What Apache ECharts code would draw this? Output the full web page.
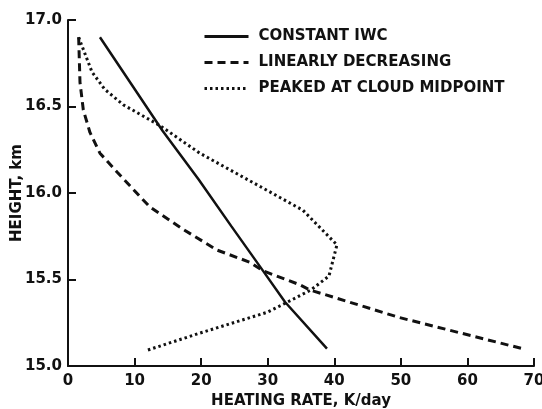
<!DOCTYPE html>
<html>
<head>
<meta charset="utf-8">
<script src="https://cdn.jsdelivr.net/npm/echarts@6/dist/echarts.min.js"></script>
<style>
  html, body { margin: 0; padding: 0; background: #fff; }
  #chart { width: 542px; height: 409px; }
</style>
</head>
<body>
<div id="chart"></div>
<script>
// heating rate (K/day) vs height (km)
const seriesNames = ["CONSTANT IWC", "LINEARLY DECREASING", "PEAKED AT CLOUD MIDPOINT"];

const constRate = [4.8, 9.5, 14.2, 19.6, 24.5, 29.3, 32.6, 38.9];
const constHeight = [16.9, 16.63, 16.36, 16.08, 15.81, 15.55, 15.37, 15.1];

const linRate = [1.6, 1.8, 2.3, 3.3, 4.8, 7.4, 10.8, 12.3, 17.3, 22.4, 27.3, 29.3, 34.8, 36.3, 49.8, 68.3];
const linHeight = [16.9, 16.64, 16.48, 16.35, 16.23, 16.12, 15.98, 15.92, 15.79, 15.67, 15.6, 15.55, 15.47, 15.44, 15.28, 15.1];

const peakRate = [1.6, 3.6, 5.5, 8.3, 13.8, 19.8, 27.8, 35.3, 40.4, 39.2, 36.5, 33, 29.9, 19.8, 11.8];
const peakHeight = [16.9, 16.7, 16.6, 16.51, 16.39, 16.23, 16.06, 15.9, 15.7, 15.52, 15.44, 15.37, 15.31, 15.19, 15.09];

const xTicks = [0, 10, 20, 30, 40, 50, 60, 70];
const yTicks = [15.0, 15.5, 16.0, 16.5, 17.0];

function pairs(xs, ys) {
  return xs.map((x, i) => [x, ys[i]]);
}

const ink = "#111";
const font = "DejaVu Sans";

let myChart = echarts.init(document.getElementById("chart"));
myChart.setOption({
  animation: false,
  backgroundColor: "#fff",
  grid: {
    left: 68,
    right: 8,
    top: 20,
    bottom: 43,
    outerBoundsMode: "none",
    containLabel: false
  },
  legend: {
    orient: "vertical",
    left: 198,
    top: 24,
    itemWidth: 44,
    itemHeight: 14,
    itemGap: 11,
    data: seriesNames,
    itemStyle: { opacity: 0 },
    lineStyle: { width: 3 },
    textStyle: {
      color: ink,
      fontFamily: font,
      fontWeight: "bold",
      fontSize: 15,
      padding: [0, 0, 0, 5]
    }
  },
  xAxis: {
    type: "value",
    min: xTicks[0],
    max: xTicks[xTicks.length - 1],
    interval: 10,
    name: "HEATING RATE, K/day",
    nameLocation: "middle",
    nameGap: 26,
    nameTextStyle: { color: ink, fontFamily: font, fontWeight: "bold", fontSize: 15 },
    axisLine: { lineStyle: { color: ink, width: 2 } },
    axisTick: { inside: true, length: 8, lineStyle: { color: ink, width: 2 } },
    axisLabel: { color: ink, fontFamily: font, fontWeight: "bold", fontSize: 15, margin: 8 },
    splitLine: { show: false }
  },
  yAxis: {
    type: "value",
    min: yTicks[0],
    max: yTicks[yTicks.length - 1],
    interval: 0.5,
    name: "HEIGHT, km",
    nameLocation: "middle",
    nameGap: 43,
    nameMoveOverlap: false,
    nameTextStyle: { color: ink, fontFamily: font, fontWeight: "bold", fontSize: 15 },
    axisLine: { show: true, lineStyle: { color: ink, width: 2 } },
    axisTick: { show: true, inside: true, length: 8, lineStyle: { color: ink, width: 2 } },
    axisLabel: {
      color: ink,
      fontFamily: font,
      fontWeight: "bold",
      fontSize: 15,
      margin: 6,
      formatter: v => v.toFixed(1)
    },
    splitLine: { show: false }
  },
  series: [
    {
      name: seriesNames[0],
      type: "line",
      symbol: "none",
      data: pairs(constRate, constHeight),
      lineStyle: { color: ink, width: 2.5 },
      itemStyle: { color: ink }
    },
    {
      name: seriesNames[1],
      type: "line",
      symbol: "none",
      data: pairs(linRate, linHeight),
      lineStyle: { color: ink, width: 3, type: [8, 5] },
      itemStyle: { color: ink }
    },
    {
      name: seriesNames[2],
      type: "line",
      symbol: "none",
      data: pairs(peakRate, peakHeight),
      lineStyle: { color: ink, width: 3, type: [2.5, 3] },
      itemStyle: { color: ink }
    }
  ]
});
</script>
</body>
</html>
